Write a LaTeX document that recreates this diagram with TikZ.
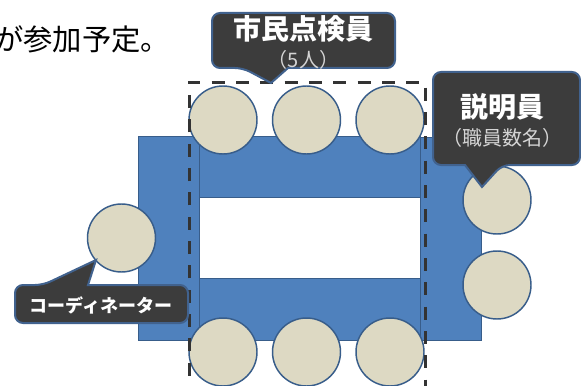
\documentclass[tikz,border=0pt]{standalone}
\usepackage{fontspec}
\newfontfamily\jp{Noto Sans CJK JP}
\definecolor{tblue}{HTML}{4F81BD}
\definecolor{tedge}{HTML}{385D8A}
\definecolor{seatc}{HTML}{DDD9C3}
\definecolor{seatedge}{HTML}{385D8A}
\definecolor{bubfill}{HTML}{3C3C3C}
\definecolor{bubedge}{HTML}{41628E}
\definecolor{subgray}{HTML}{D4D4D4}
\definecolor{dashc}{HTML}{333333}
\begin{document}
\begin{tikzpicture}[x=0.75pt,y=-0.75pt,
  tbl/.style={fill=tblue,draw=tedge,line width=0.75pt},
  seat/.style={circle,fill=seatc,draw=seatedge,line width=1.1pt,minimum size=51pt,inner sep=0pt},
  bubble/.style={fill=bubfill,draw=bubedge,line width=1.5pt},
  title/.style={font=\jp\bfseries\fontsize{21}{24}\selectfont,text=white,inner sep=0pt},
  coord/.style={font=\jp\bfseries\fontsize{13.5}{16}\selectfont,text=white,inner sep=0pt},
  sub/.style={font=\jp\fontsize{15}{18}\selectfont,text=subgray,inner sep=0pt},
  guide/.style={draw=dashc,line width=2.25pt,dash pattern=on 9.75pt off 8.5pt}]
\useasboundingbox (0,0) rectangle (581,385);
% heading fragment
\node[font=\jp\fontsize{22}{25}\selectfont,anchor=west,inner sep=0pt] (head) at (-6,39) {が参加予定。};
% tables
\filldraw[tbl] (138,136) rectangle (199,340);
\filldraw[tbl] (420,137) rectangle (481,340);
\filldraw[tbl] (199,136) rectangle (420,197);
\filldraw[tbl] (199,278) rectangle (420,340);
% seats
\node[seat] (t1) at (223,120) {};
\node[seat] (t2) at (306.5,120) {};
\node[seat] (t3) at (390,120) {};
\node[seat] (b1) at (223,352) {};
\node[seat] (b2) at (306.5,352) {};
\node[seat] (b3) at (390,352) {};
\node[seat] (c) at (121.5,238) {};
\node[seat] (r1) at (497,200) {};
\node[seat] (r2) at (497,285) {};
% dashed group frame
\draw[guide] (189,400) -- (189,82) -- (425,82) -- (425,400);
% callout 1
\path[bubble] (243,68) -- (271,83) -- (288,68) [rounded corners=6pt] -- (395,68) -- (395,13) -- (212,13) -- (212,68) -- cycle;
\node[title] (cm) at (303.5,29) {市民点検員};
\node[sub] (cms) at (303.5,60) {（5人）};
% callout 2
\path[bubble] (502,165) -- (482,187) -- (465,165) [rounded corners=6pt] -- (433,165) -- (433,72) -- (580,72) -- (580,165) -- cycle;
\node[title] (ex) at (502,107) {説明員};
\node[sub] (exs) at (502,138) {（職員数名）};
% callout 3
\path[bubble] (43,285) -- (96,260) -- (88,285) [rounded corners=6pt] -- (188,285) -- (188,323) -- (15,323) -- (15,285) -- cycle;
\node[coord] (co) at (101,305) {コーディネーター};
\end{tikzpicture}
\end{document}
